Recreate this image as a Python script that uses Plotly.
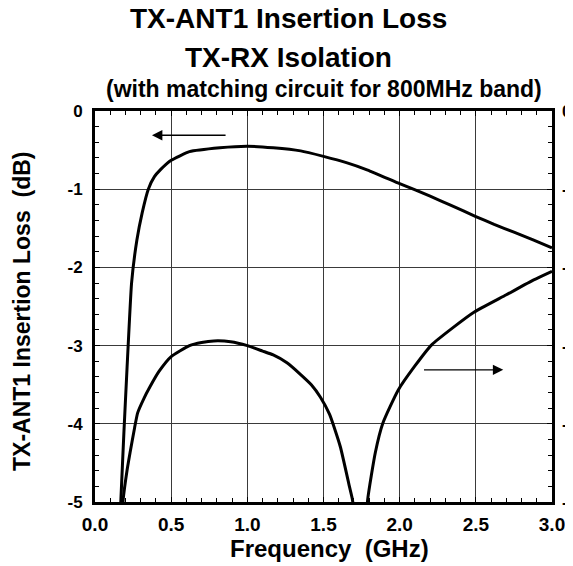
import plotly.graph_objects as go

# ---- data ----
freq_il = [0.14, 0.17, 0.19, 0.21, 0.24, 0.275, 0.31, 0.35, 0.39, 0.43, 0.50, 0.62,
           0.82, 1.00, 1.17, 1.35, 1.50, 1.65, 1.79, 2.00, 2.09, 2.20, 2.33, 2.50,
           2.62, 2.75, 2.88, 3.00]
insertion_loss_db = [-6.3, -4.97, -4.1, -3.3, -2.2, -1.65, -1.30, -1.00, -0.84, -0.75,
                     -0.63, -0.52, -0.47, -0.45, -0.47, -0.51, -0.58, -0.66, -0.755,
                     -0.93, -1.00, -1.09, -1.20, -1.35, -1.45, -1.55, -1.65, -1.75]

freq_iso = [0.16, 0.185, 0.21, 0.23, 0.26, 0.28, 0.32, 0.36, 0.42, 0.50, 0.62, 0.70,
            0.78, 0.89, 1.00, 1.10, 1.17, 1.26, 1.35, 1.42, 1.48, 1.54, 1.61, 1.67,
            1.69, 1.72, 1.74, 1.77, 1.79, 1.84, 1.89, 1.99, 2.10, 2.21, 2.35, 2.49,
            2.70, 2.88, 3.00]
isolation_db = [-60, -49.7, -46, -43.7, -40.5, -38.6, -36.8, -35.3, -33.3, -31.4, -30.0,
                -29.6, -29.4, -29.5, -30.0, -30.7, -31.2, -32.2, -33.7, -35.0, -36.6,
                -38.8, -42.9, -48.0, -49.7, -56, -65, -56, -49.7, -43.7, -39.9, -35.7,
                -32.6, -29.9, -27.7, -25.7, -23.5, -21.6, -20.5]

x_ticks = [0.0, 0.5, 1.0, 1.5, 2.0, 2.5, 3.0]
x_tick_labels = ["0.0", "0.5", "1.0", "1.5", "2.0", "2.5", "3.0"]
y_ticks = [0, -1, -2, -3, -4, -5]
y_tick_labels = ["0", "-1", "-2", "-3", "-4", "-5"]
y2_ticks = [0, -10, -20, -30, -40, -50]
y2_tick_labels = ["0", "-10", "-20", "-30", "-40", "-50"]

FONT = "Liberation Sans, Arial, sans-serif"
OFF = 8  # page body margin offset
W, H = 573 - OFF, 566 - OFF
ML, MR, MT, MB = 95 - OFF, 21, 111 - OFF, 64

fig = go.Figure()
fig.add_trace(go.Scatter(x=freq_il, y=insertion_loss_db, mode="lines",
                         line=dict(color="black", width=3, shape="spline", smoothing=0.4),
                         showlegend=False))
fig.add_trace(go.Scatter(x=freq_iso, y=isolation_db, mode="lines", yaxis="y2",
                         line=dict(color="black", width=3, shape="spline", smoothing=0.5),
                         showlegend=False))

common = dict(showgrid=True, gridcolor="#3a3a3a", gridwidth=1, zeroline=False,
              showline=True, linecolor="black", linewidth=3, mirror="ticks",
              ticks="inside", ticklen=5, tickwidth=1, tickcolor="black")

fig.update_layout(
    width=W, height=H,
    margin=dict(l=ML, r=MR, t=MT, b=MB, autoexpand=False),
    paper_bgcolor="white", plot_bgcolor="white",
    xaxis=dict(range=[0, 3], tickvals=x_ticks, ticktext=x_tick_labels,
               minor=dict(dtick=0.1, ticks="inside", ticklen=4, tickcolor="black", showgrid=False),
               ticklabelstandoff=3,
               tickfont=dict(family=FONT, size=19, color="black", weight="bold"), **common),
    yaxis=dict(range=[-5, 0], tickvals=y_ticks, ticktext=y_tick_labels,
               minor=dict(dtick=0.2, ticks="inside", ticklen=4, tickcolor="black", showgrid=False),
               ticklabelstandoff=6,
               tickfont=dict(family=FONT, size=17, color="black", weight="bold"), **common),
    yaxis2=dict(range=[-50, 0], tickvals=y2_ticks, ticktext=y2_tick_labels,
                overlaying="y", side="right", showgrid=False, zeroline=False,
                showline=False, ticks="", ticklabelstandoff=9,
                tickfont=dict(family=FONT, size=17, color="black", weight="bold")),
)

# helpers: convert reference-picture pixels to paper coords
def ypap(py):
    return (502 - py) / 391

def xpap(px):
    return (px - 95) / 457

ann = [
    dict(text="<b>TX-ANT1 Insertion Loss</b>", x=xpap(288), y=ypap(19), size=28),
    dict(text="<b>TX-RX Isolation</b>", x=xpap(288), y=ypap(57), size=28),
    dict(text="<b>(with matching circuit for 800MHz band)</b>", x=xpap(324), y=ypap(89), size=23),
    dict(text="<b>Frequency  (GHz)</b>", x=xpap(329), y=ypap(548), size=24),
]
for a in ann:
    fig.add_annotation(text=a["text"], xref="paper", yref="paper", x=a["x"], y=a["y"],
                       xanchor="center", yanchor="middle", showarrow=False,
                       font=dict(family=FONT, size=a["size"], color="black"))
fig.add_annotation(text="<b>TX-ANT1 Insertion Loss  (dB)</b>", xref="paper", yref="paper",
                   x=xpap(22), y=ypap(312), textangle=-90, xanchor="center", yanchor="middle",
                   showarrow=False, font=dict(family=FONT, size=23, color="black"))

# direction arrows
fig.add_annotation(x=0.374, y=-0.31, ax=0.867, ay=-0.31, xref="x", yref="y",
                   axref="x", ayref="y", text="", showarrow=True, arrowhead=2,
                   arrowsize=1.6, arrowwidth=1.3, arrowcolor="black")
fig.add_annotation(x=2.68, y=-3.31, ax=2.15, ay=-3.31, xref="x", yref="y",
                   axref="x", ayref="y", text="", showarrow=True, arrowhead=2,
                   arrowsize=1.6, arrowwidth=1.3, arrowcolor="black")

fig.write_html("out.html")
